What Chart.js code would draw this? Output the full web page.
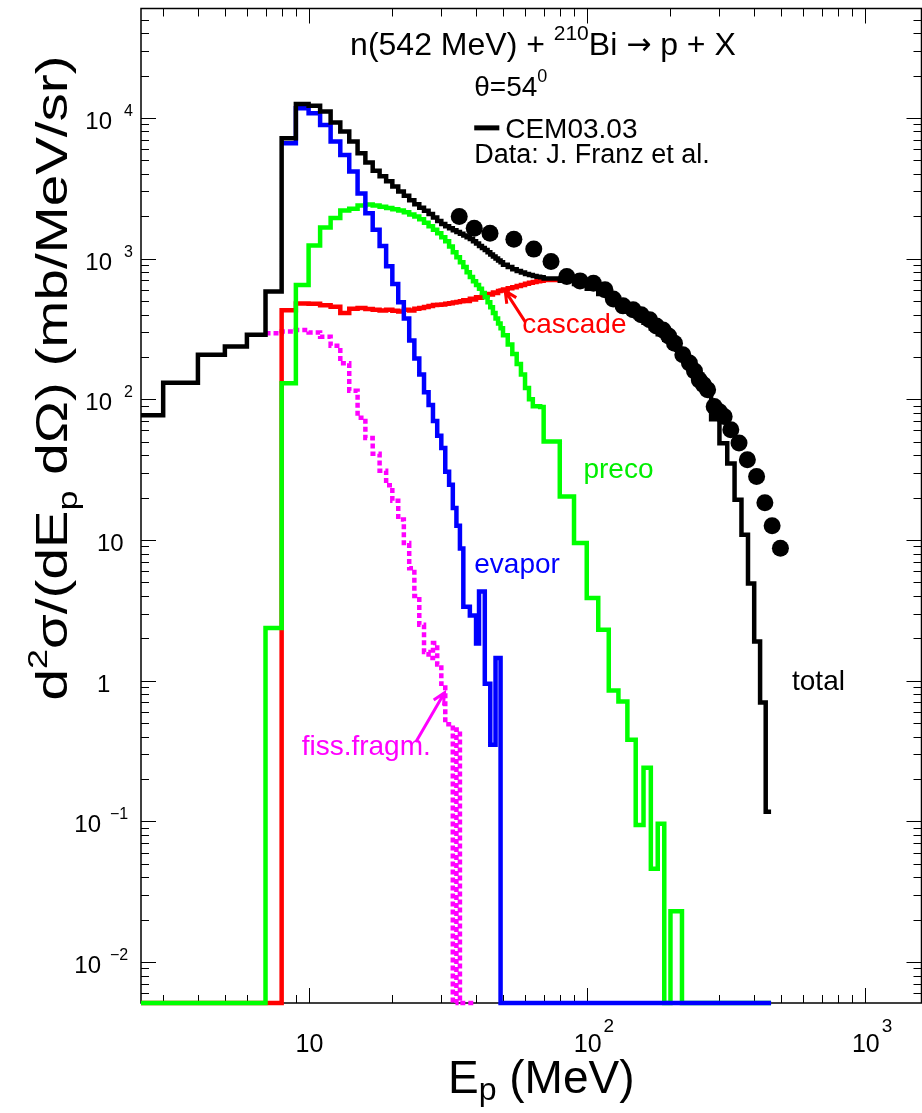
<!DOCTYPE html>
<html>
<head>
<meta charset="utf-8">
<script src="https://cdn.jsdelivr.net/npm/chart.js@4.4.0/dist/chart.umd.min.js"></script>
<style>
  html, body { margin: 0; padding: 0; background: #fff; overflow: hidden; }
  #wrap { position: relative; width: 930px; height: 1113px; }
</style>
</head>
<body>
<div id="wrap"><canvas id="spectrum"></canvas></div>
<script>
// axis ranges (log-log)
const X_MIN = 2.497, X_MAX = 1598;
const Y_MIN = 0.005115, Y_MAX = 59880;

// histogram bin edges, MeV
const EDGES = [2, 3, 4, 5, 6, 7, 8, 9, 10, 11, 12, 13, 14, 15, 16, 17, 18, 19, 20, 21, 22, 23, 24, 25, 26,
  27, 28, 29, 30, 31, 32, 33, 34, 35, 36, 37, 38, 39, 40, 41, 42, 43, 44, 45, 46, 47, 48, 49, 50,
  52, 54, 56, 58, 60, 62, 64, 66, 68, 70,
  80, 90, 100, 110, 120, 130, 140, 150, 160, 170, 180, 190, 200, 210, 220, 230, 240, 250, 260, 270, 280,
  300, 320, 340, 360, 380, 400, 420, 440, 460];

// CEM03.03 total, bins from 2 MeV
const TOTAL = [77, 131, 207, 237, 287, 583, 7170, 12550, 12170, 11090, 9260, 8000, 6800, 5610, 4810, 4200,
  3850, 3550, 3250, 3000, 2800, 2600, 2430, 2300, 2190, 2070, 1960, 1850, 1760, 1700, 1640, 1590, 1545,
  1500, 1460, 1420, 1380, 1330, 1280, 1230, 1190, 1150, 1110, 1070, 1035, 1000, 970, 940,
  905, 870, 840, 815, 795, 778, 765, 752, 742, 735,
  722, 695, 660, 610, 560, 510, 460, 420, 385, 350, 318, 290, 265, 245, 225, 205, 185, 168, 150, 132, 112,
  72, 48.7, 35, 19.3, 10.9, 4.9, 1.9, 0.7, 0.117];

// evaporation, bins from 8 MeV
const EVAPOR = [6610, 11700, 10800, 8900, 6800, 5450, 4150, 2900, 2100, 1600, 1230, 880, 660, 490, 375, 262,
  195, 150, 112, 91, 70, 55, 45, 30.5, 24.7, 16.9, 12.6, 8.7, 3.35, 3.35, 2.9, 2.9, 1.84, 4.3, 4.3,
  0.95, 0.95, 0.35, 0.35, 1.45, 1.45];

// preequilibrium, bins from 2 MeV
const PRECO = [0, 0, 0, 0, 0, 2.37, 130, 650, 1240, 1660, 1940, 2200, 2260, 2380, 2420, 2380, 2330, 2290,
  2240, 2200, 2130, 2060, 1990, 1900, 1800, 1700, 1600, 1510, 1420, 1330, 1220, 1110, 1020, 940, 870,
  800, 740, 690, 650, 610, 570, 530, 490, 450, 410, 375, 345, 320,
  285, 245, 210, 178, 150, 120, 100, 89, 89, 88,
  50, 20.4, 9.5, 3.86, 2.3, 0.85, 0.71, 0.38, 0.094, 0.24, 0.046, 0.096, 0, 0.023, 0.023];

// cascade, bins from 2 MeV
const CASCADE = [0, 0, 0, 0, 0, 0, 430, 480, 478, 465, 455, 410, 440, 445, 438, 432, 428, 432, 426, 420,
  432, 428, 440, 445, 452, 460, 468, 470, 472, 478, 482, 488, 492, 498, 505, 500, 518, 512, 530, 526,
  545, 540, 560, 556, 574, 570, 587, 594,
  603, 615, 626, 638, 650, 662, 672, 682, 690, 696,
  705];

// fission fragments, bins from 7 MeV
const FISSION = [295, 303, 311, 298, 278, 240, 180, 115, 74, 53, 41, 31, 24.5, 19, 14, 9.5, 6.3, 4.0, 2.5,
  1.6, 1.45, 1.85, 1.3, 0.95, 0.49, 0.49, 0, 0.45];

// measured data, J. Franz et al.
const DATA_E = [34.8, 39.4, 44.9, 54.7, 64.5, 74.4, 84.8, 94.6, 105.7, 116.3, 124.6, 135, 146.8, 157, 168.3,
  178, 188, 197, 206.8, 221.5, 234, 244, 253.9, 263, 272, 287.2, 300, 311.9, 329.6, 352.8, 378, 408, 437, 464, 497];
const DATA_V = [1989, 1644, 1515, 1374, 1167, 953, 745, 694, 668, 600, 515, 461, 432, 398, 367,
  332, 311, 282, 250, 207, 181, 159, 137, 127, 117, 88.8, 81.4, 75.3, 60.6, 48.8, 37.1, 28.2, 18.4, 12.6, 8.74];

const Y_TICKS = [[1e4, '10', '4'], [1e3, '10', '3'], [1e2, '10', '2'], [10, '10', ''], [1, '1', ''],
  [0.1, '10', '-1'], [0.01, '10', '-2']];
const X_TICKS = [[10, '10', ''], [100, '10', '2'], [1000, '10', '3']];

const NOTES = [
  { text: 'cascade', e: 58.6, v: 297, color: '#ff0000' },
  { text: 'preco', e: 97.3, v: 27.6, color: '#00ee00' },
  { text: 'evapor', e: 39.4, v: 5.84, color: '#0000ff' },
  { text: 'total', e: 547, v: 0.86, color: '#000000' },
  { text: 'fiss.fragm.', e: 9.44, v: 0.297, color: '#ff00ff' }
];
const ARROWS = [
  { from: [60.1, 355], to: [50.9, 589], color: '#ff0000' },
  { from: [24.3, 0.367], to: [30.8, 0.82], color: '#ff00ff' }
];

const FONT = '"Liberation Sans", Arial, "DejaVu Sans", sans-serif';
const font = (s, fam) => s + 'px ' + (fam || FONT);

function histogram(startE, values, floorTo) {
  const i = EDGES.indexOf(startE);
  const pts = values.map((v, k) => ({ x: EDGES[i + k], y: v > 0 ? v : Y_MIN }));
  const end = EDGES[i + values.length];
  pts.push({ x: end, y: pts[pts.length - 1].y });
  if (floorTo) {
    pts.push({ x: end, y: Y_MIN });
    pts.push({ x: floorTo, y: Y_MIN });
  }
  return pts;
}

function logTicks(min, max) {
  const out = [];
  for (let k = Math.floor(Math.log10(min)); k <= Math.ceil(Math.log10(max)); k++) {
    for (let m = 1; m <= 9; m++) {
      const v = m * Math.pow(10, k);
      if (v > min && v < max) out.push({ v, major: m === 1 });
    }
  }
  return out;
}

function partsWidth(ctx, parts) {
  let w = 0;
  for (const [t, s, , fam] of parts) { ctx.font = font(s, fam); w += ctx.measureText(t).width; }
  return w;
}

function rich(ctx, parts, x, y, align) {
  const w = partsWidth(ctx, parts);
  let cx = align === 'center' ? x - w / 2 : align === 'right' ? x - w : x;
  for (const [t, s, dy, fam] of parts) {
    ctx.font = font(s, fam);
    ctx.fillText(t, cx, y + (dy || 0));
    cx += ctx.measureText(t).width;
  }
  return w;
}

const decor = {
  id: 'decor',
  beforeDatasetsDraw(chart) {
    const { ctx, chartArea: a, scales: { x, y } } = chart;
    ctx.save();
    ctx.strokeStyle = '#000';
    ctx.lineWidth = 1.5;
    ctx.strokeRect(a.left, a.top, a.right - a.left, a.bottom - a.top);
    ctx.lineWidth = 1;
    ctx.beginPath();
    for (const t of logTicks(x.min, x.max)) {
      const px = Math.round(x.getPixelForValue(t.v)) + 0.5;
      const len = t.major ? 15 : 8;
      ctx.moveTo(px, a.bottom); ctx.lineTo(px, a.bottom - len);
      ctx.moveTo(px, a.top); ctx.lineTo(px, a.top + len);
    }
    for (const t of logTicks(y.min, y.max)) {
      const py = Math.round(y.getPixelForValue(t.v)) + 0.5;
      const len = t.major ? 15 : 8;
      ctx.moveTo(a.left, py); ctx.lineTo(a.left + len, py);
      ctx.moveTo(a.right, py); ctx.lineTo(a.right - len, py);
    }
    ctx.stroke();
    ctx.restore();
  },
  afterDatasetsDraw(chart) {
    const { ctx, scales: { x, y } } = chart;
    const px = e => x.getPixelForValue(e);
    const py = v => y.getPixelForValue(v);
    ctx.save();
    ctx.fillStyle = '#000';
    ctx.textBaseline = 'alphabetic';

    // y tick labels
    for (const [v, base, exp] of Y_TICKS) {
      const ty = py(v);
      ctx.font = font(24);
      if (!exp) {
        ctx.textAlign = 'left';
        ctx.fillText(base, 97, ty + 11);
      } else {
        const neg = exp.startsWith('-');
        ctx.textAlign = 'right';
        ctx.fillText(base, neg ? 101 : 112, ty + 11);
        ctx.textAlign = 'left';
        ctx.font = font(16);
        ctx.fillText(exp.replace('-', '\u2212'), neg ? 110 : 124, ty - 2);
      }
    }
    // x tick labels
    ctx.textAlign = 'left';
    for (const [v, base, exp] of X_TICKS) {
      const tx = px(v) - 13;
      ctx.font = font(25);
      ctx.fillText(base, tx, 1052);
      if (exp) {
        const w = ctx.measureText(base).width;
        ctx.font = font(19);
        ctx.fillText(exp, tx + w + 2, 1032);
      }
    }

    // axis titles
    rich(ctx, [['E', 46, 0], ['p', 32, 7], [' (MeV)', 46, 0]], 448, 1093, 'left');
    ctx.save();
    ctx.translate(67, 378);
    ctx.rotate(-Math.PI / 2);
    const yParts = [['d', 44, 0], ['2', 28, -20], ['\u03c3/(dE', 44, 0], ['p', 28, 10], [' d\u03a9) (mb/MeV/sr)', 44, 0]];
    const yw = partsWidth(ctx, yParts);
    ctx.scale(645 / yw, 1);
    rich(ctx, yParts, 0, 0, 'center');
    ctx.restore();

    // header and legend
    rich(ctx, [['n(542 MeV) + ', 32, 0], ['210', 21, -15], ['Bi ', 32, 0],
      ['\u2192', 30, -1, '"DejaVu Sans", sans-serif'], [' p + X', 32, 0]], px(14.1), py(28040), 'left');
    rich(ctx, [['\u03b8=54', 28, 0], ['0', 18, -14]], px(39.4), py(14210), 'left');
    ctx.strokeStyle = '#000';
    ctx.lineWidth = 5;
    ctx.beginPath();
    ctx.moveTo(px(39.4), py(8490));
    ctx.lineTo(px(48.5), py(8490));
    ctx.stroke();
    rich(ctx, [['CEM03.03', 28, 0]], px(50.9), py(7210), 'left');
    rich(ctx, [['Data: J. Franz et al.', 27, 0]], px(39.4), py(4790), 'left');

    // component labels
    for (const n of NOTES) {
      ctx.fillStyle = n.color;
      rich(ctx, [[n.text, 28, 0]], px(n.e), py(n.v), 'left');
    }
    // arrows
    for (const a of ARROWS) {
      const x0 = px(a.from[0]), y0 = py(a.from[1]);
      const x1 = px(a.to[0]), y1 = py(a.to[1]);
      const ang = Math.atan2(y1 - y0, x1 - x0);
      ctx.strokeStyle = a.color;
      ctx.lineWidth = 3;
      ctx.beginPath();
      ctx.moveTo(x0, y0);
      ctx.lineTo(x1, y1);
      ctx.moveTo(x1 - 13 * Math.cos(ang - 0.45), y1 - 13 * Math.sin(ang - 0.45));
      ctx.lineTo(x1, y1);
      ctx.lineTo(x1 - 13 * Math.cos(ang + 0.45), y1 - 13 * Math.sin(ang + 0.45));
      ctx.stroke();
    }
    ctx.restore();
  }
};

const histStyle = {
  borderWidth: 4.5,
  pointRadius: 0,
  stepped: 'before',
  fill: false,
  tension: 0,
  borderCapStyle: 'butt',
  borderJoinStyle: 'miter',
  clip: { left: 0, top: 0, right: 0, bottom: 3 }
};

new Chart(document.getElementById('spectrum'), {
  type: 'line',
  data: {
    datasets: [
      {
        label: 'Data: J. Franz et al.',
        data: DATA_E.map((e, i) => ({ x: e, y: DATA_V[i] })),
        showLine: false,
        pointRadius: 8.5,
        pointBackgroundColor: '#000',
        pointBorderWidth: 0,
        borderColor: '#000',
        clip: false
      },
      Object.assign({ label: 'total', data: histogram(2, TOTAL), borderColor: '#000000' }, histStyle),
      Object.assign({ label: 'evapor', data: histogram(8, EVAPOR, 460), borderColor: '#0000ff' }, histStyle),
      Object.assign({ label: 'preco', data: histogram(2, PRECO, 460), borderColor: '#00ff00' }, histStyle),
      Object.assign({ label: 'cascade', data: histogram(2, CASCADE), borderColor: '#ff0000' }, histStyle),
      Object.assign({ label: 'fiss.fragm.', data: histogram(7, FISSION, 40), borderColor: '#ff00ff',
        borderDash: [5, 3] }, histStyle)
    ]
  },
  options: {
    responsive: true,
    maintainAspectRatio: false,
    animation: false,
    events: [],
    layout: { padding: { left: 141, top: 8, right: 3, bottom: 110 } },
    scales: {
      x: { type: 'logarithmic', min: X_MIN, max: X_MAX, bounds: 'data', display: false },
      y: { type: 'logarithmic', min: Y_MIN, max: Y_MAX, bounds: 'data', display: false }
    },
    plugins: {
      legend: { display: false },
      tooltip: { enabled: false }
    }
  },
  plugins: [decor]
});
</script>
</body>
</html>
